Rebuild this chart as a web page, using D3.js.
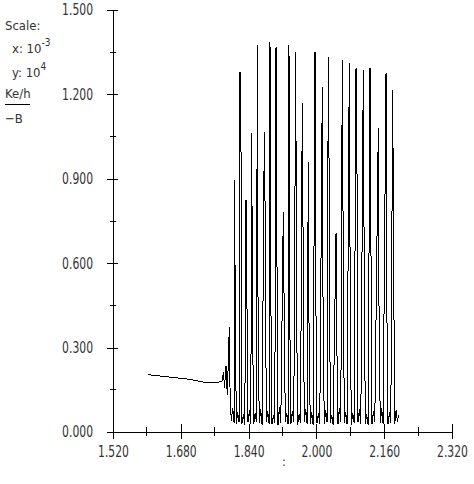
<!DOCTYPE html>
<html lang="en">
<head>
<meta charset="UTF-8">
<title>Trace</title>
<script src="https://d3js.org/d3.v7.min.js"></script>
<style>
  body { margin: 0; background: #fff; }
  text { font-family: "Liberation Sans Narrow", "DejaVu Sans Condensed", "Liberation Sans", sans-serif; font-stretch: condensed; fill: #333; }
</style>
</head>
<body>
<div id="chart"></div>
<script>
// axis ticks
const xTicks = [1.52, 1.68, 1.84, 2.00, 2.16, 2.32];
const xMinor = [1.60, 1.76, 1.92, 2.08, 2.24];
const yTicks = [0.0, 0.3, 0.6, 0.9, 1.2, 1.5];
const yMinor = [0.15, 0.45, 0.75, 1.05, 1.35];

// slow approach before the oscillation
const preT = [1.6026, 1.6545, 1.7017, 1.7442, 1.7725, 1.7772, 1.7808, 1.7831, 1.7867, 1.7897];
const preV = [0.204, 0.195, 0.187, 0.174, 0.178, 0.181, 0.213, 0.156, 0.235, 0.132];

// spikes
const peakT = [1.7945, 1.8062, 1.8197, 1.8339, 1.8473, 1.8605, 1.8771, 1.8905, 1.9047, 1.9219, 1.9353, 1.9512, 1.9667,
               1.9809, 1.9967, 2.0139, 2.0281, 2.0463, 2.0611, 2.0776, 2.0935, 2.1107, 2.1265, 2.1461, 2.1643, 2.1801];
const peakV = [0.373, 0.896, 1.280, 0.825, 1.063, 1.376, 1.066, 1.386, 1.369, 0.782, 1.376, 1.351, 1.169,
               0.960, 1.351, 1.226, 1.333, 0.707, 1.322, 1.312, 1.294, 1.287, 1.294, 1.081, 1.276, 1.216];
const sideT = [1.7964, 1.8081, 1.8216, 1.8358, 1.8492, 1.8624, 1.8790, 1.8924, 1.9066, 1.9238, 1.9372, 1.9531, 1.9686,
               1.9828, 1.9986, 2.0158, 2.0300, 2.0482, 2.0630, 2.0795, 2.0954, 2.1126, 2.1284, 2.1480, 2.1662, 2.1820];
const sideV = [0.124, 0.565, 1.198, 0.515, 0.405, 0.387, 0.778, 0.494, 0.693, 0.450, 0.398, 0.459, 0.672,
               0.302, 0.494, 0.387, 0.921, 0.316, 0.718, 0.587, 1.084, 0.647, 0.754, 0.352, 0.459, 0.658];

// troughs and small humps between spikes
const dipT = [1.7992, 1.8058, 1.8109, 1.8175, 1.8244, 1.8310, 1.8386, 1.8452, 1.8520, 1.8586, 1.8652, 1.8718, 1.8818, 1.8884,
              1.8952, 1.9018, 1.9094, 1.9160, 1.9266, 1.9332, 1.9400, 1.9466, 1.9559, 1.9625, 1.9714, 1.9780, 1.9856, 1.9922,
              2.0014, 2.0080, 2.0186, 2.0252, 2.0328, 2.0394, 2.0510, 2.0576, 2.0658, 2.0724, 2.0823, 2.0889, 2.0982, 2.1048,
              2.1154, 2.1220, 2.1312, 2.1378, 2.1508, 2.1574, 2.1690, 2.1756, 2.1848, 2.1914];
const dipV = [0.040, 0.032, 0.028, 0.036, 0.030, 0.025, 0.034, 0.029, 0.027, 0.035, 0.031, 0.026, 0.036, 0.030,
              0.028, 0.033, 0.025, 0.031, 0.034, 0.027, 0.030, 0.036, 0.026, 0.032, 0.035, 0.028, 0.030, 0.025,
              0.033, 0.029, 0.027, 0.034, 0.031, 0.026, 0.029, 0.035, 0.032, 0.027, 0.025, 0.033, 0.034, 0.028,
              0.030, 0.026, 0.027, 0.035, 0.031, 0.029, 0.028, 0.033, 0.030, 0.036];
const humpT = [1.8025, 1.8142, 1.8277, 1.8419, 1.8553, 1.8685, 1.8851, 1.8985, 1.9127, 1.9299, 1.9433, 1.9592, 1.9747,
               1.9889, 2.0047, 2.0219, 2.0361, 2.0543, 2.0691, 2.0856, 2.1015, 2.1187, 2.1345, 2.1541, 2.1723, 2.1881];
const humpV = [0.085, 0.070, 0.062, 0.078, 0.066, 0.081, 0.073, 0.059, 0.088, 0.069, 0.076, 0.064, 0.083,
               0.071, 0.067, 0.079, 0.061, 0.086, 0.072, 0.068, 0.080, 0.063, 0.075, 0.084, 0.070, 0.078];
const tailT = [2.1935];
const tailV = [0.062];

const W = 474, H = 484;
const squeeze = 0.8; // labels in the original are tall and narrow

const svg = d3.select("#chart").append("svg")
    .attr("width", W).attr("height", H);

const x = d3.scaleLinear().domain([1.52, 2.32]).range([113, 452]);
const y = d3.scaleLinear().domain([0, 1.5]).range([432, 10]);

// merge every sample into one trace ordered by time
const pts = [];
const add = (ts, vs) => ts.forEach((t, i) => pts.push([t, vs[i]]));
add(preT, preV); add(peakT, peakV); add(sideT, sideV);
add(dipT, dipV); add(humpT, humpV); add(tailT, tailV);
pts.sort((a, b) => a[0] - b[0]);

// y axis
const yAxis = svg.append("g").attr("transform", "translate(113,0)")
    .call(d3.axisLeft(y).tickValues(yTicks).tickFormat(d3.format(".3f")).tickSizeOuter(0));
yAxis.select(".domain").attr("stroke", "#000").attr("shape-rendering", "crispEdges");
yAxis.selectAll(".tick line").attr("x1", 5).attr("x2", -6).attr("stroke", "#000").attr("shape-rendering", "crispEdges");
yAxis.selectAll(".tick text")
    .attr("x", -20 / squeeze)
    .attr("transform", `scale(${squeeze},1)`)
    .attr("font-size", 15).attr("fill", "#333");
svg.append("g").selectAll("line").data(yMinor).join("line")
    .attr("x1", 110).attr("x2", 116)
    .attr("y1", d => y(d)).attr("y2", d => y(d))
    .attr("stroke", "#000").attr("shape-rendering", "crispEdges");

// x axis
const xAxis = svg.append("g").attr("transform", "translate(0,432)")
    .call(d3.axisBottom(x).tickValues(xTicks).tickFormat(d3.format(".3f")).tickSizeOuter(0));
xAxis.select(".domain").attr("stroke", "#000").attr("shape-rendering", "crispEdges");
xAxis.selectAll(".tick line").attr("y1", -8).attr("y2", 7).attr("stroke", "#000").attr("shape-rendering", "crispEdges");
xAxis.selectAll(".tick text")
    .attr("y", 14)
    .attr("transform", `scale(${squeeze},1)`)
    .attr("font-size", 15).attr("fill", "#333");
svg.append("g").selectAll("line").data(xMinor).join("line")
    .attr("x1", d => x(d)).attr("x2", d => x(d))
    .attr("y1", 427).attr("y2", 436)
    .attr("stroke", "#000").attr("shape-rendering", "crispEdges");

// trace
svg.append("path")
    .datum(pts)
    .attr("d", d3.line().x(d => x(d[0])).y(d => y(d[1])))
    .attr("fill", "none")
    .attr("stroke", "#000")
    .attr("stroke-width", 1)
    .attr("shape-rendering", "crispEdges");

// axis title
svg.append("text").attr("x", 284).attr("y", 466).attr("text-anchor", "middle")
    .attr("font-size", 13).text(":");

// scale note
const note = svg.append("g").attr("font-size", 13);
note.append("text").attr("x", 5).attr("y", 30).text("Scale:");
const nx = note.append("text").attr("x", 12).attr("y", 53);
nx.append("tspan").text("x:  10");
nx.append("tspan").attr("dy", -7).attr("font-size", 10).text("-3");
const ny = note.append("text").attr("x", 12).attr("y", 77);
ny.append("tspan").text("y:  10");
ny.append("tspan").attr("dy", -7).attr("font-size", 10).text("4");
note.append("text").attr("x", 5).attr("y", 98).text("Ke/h");
note.append("line").attr("x1", 5).attr("x2", 30).attr("y1", 104).attr("y2", 104)
    .attr("stroke", "#000").attr("shape-rendering", "crispEdges");
note.append("text").attr("x", 5).attr("y", 123).text("\u2212B");
</script>
</body>
</html>
